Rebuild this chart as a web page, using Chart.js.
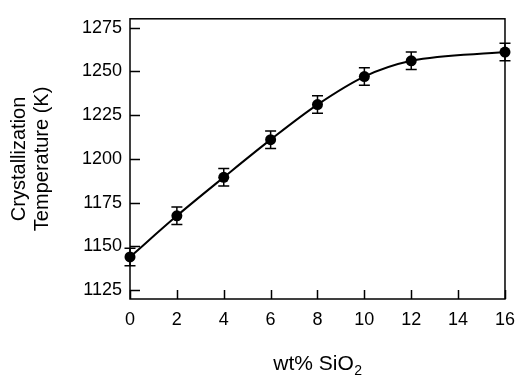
<!DOCTYPE html>
<html>
<head>
<meta charset="utf-8">
<script src="https://cdn.jsdelivr.net/npm/chart.js@4"></script>
<style>
  html,body{margin:0;padding:0;background:#fff;}
  #wrap{width:525px;height:375px;}
</style>
</head>
<body>
<div id="wrap"><canvas id="chart" width="525" height="375"></canvas></div>
<script>
// values
const silica = [0, 2, 4, 6, 8, 10, 12, 16];          // wt% SiO2
const crystTemp = [1144, 1167.5, 1189.5, 1211, 1231, 1247, 1256, 1261]; // K
const tempErr = [5, 5, 5, 5, 5, 5, 5, 5];
const xTicks = [0, 2, 4, 6, 8, 10, 12, 14, 16];
const yTicks = [1125, 1150, 1175, 1200, 1225, 1250, 1275];

const FONT = "'Liberation Sans', Arial, Helvetica, sans-serif";
const INK = "#000";

// error bars, box frame, inward tick marks, axis titles
const decorations = {
  id: "decorations",
  afterDatasetsDraw(chart){
    const ctx = chart.ctx, a = chart.chartArea;
    const xs = chart.scales.x, ys = chart.scales.y;
    ctx.save();
    ctx.strokeStyle = INK;
    ctx.lineWidth = 1.5;
    // error bars
    silica.forEach((x, i) => {
      const px = xs.getPixelForValue(x);
      const top = ys.getPixelForValue(crystTemp[i] + tempErr[i]);
      const bot = ys.getPixelForValue(crystTemp[i] - tempErr[i]);
      ctx.beginPath();
      ctx.moveTo(px, top); ctx.lineTo(px, bot);
      ctx.moveTo(px - 5.5, top); ctx.lineTo(px + 5.5, top);
      ctx.moveTo(px - 5.5, bot); ctx.lineTo(px + 5.5, bot);
      ctx.stroke();
    });
    // frame
    ctx.strokeRect(a.left, a.top, a.right - a.left, a.bottom - a.top);
    // ticks pointing inward
    ctx.beginPath();
    yTicks.forEach(v => {
      const py = Math.round(ys.getPixelForValue(v)) + 0.5;
      ctx.moveTo(a.left, py); ctx.lineTo(a.left + 10, py);
    });
    xTicks.forEach(v => {
      const px = Math.round(xs.getPixelForValue(v)) + 0.5;
      ctx.moveTo(px, a.bottom); ctx.lineTo(px, a.bottom - 9);
    });
    ctx.stroke();

    // y title, two lines rotated
    ctx.fillStyle = INK;
    ctx.font = `20px ${FONT}`;
    ctx.textAlign = "center";
    ctx.textBaseline = "middle";
    ctx.translate(31, (a.top + a.bottom) / 2);
    ctx.rotate(-Math.PI / 2);
    ctx.fillText("Crystallization", 0, -11.5);
    ctx.fillText("Temperature (K)", 0, 11.5);
    ctx.setTransform(1, 0, 0, 1, 0, 0);

    // x title with subscript
    ctx.textBaseline = "alphabetic";
    ctx.textAlign = "left";
    const main = "wt% SiO", sub = "2";
    ctx.font = `21px ${FONT}`;
    const w1 = ctx.measureText(main).width;
    ctx.font = `14px ${FONT}`;
    const w2 = ctx.measureText(sub).width;
    const x0 = (a.left + a.right) / 2 - (w1 + w2) / 2;
    ctx.font = `21px ${FONT}`;
    ctx.fillText(main, x0, 370);
    ctx.font = `14px ${FONT}`;
    ctx.fillText(sub, x0 + w1 + 0.5, 375);
    ctx.restore();
  }
};

new Chart(document.getElementById("chart"), {
  type: "line",
  data: {
    datasets: [{
      data: silica.map((x, i) => ({ x, y: crystTemp[i] })),
      borderColor: INK,
      borderWidth: 2,
      backgroundColor: INK,
      pointBackgroundColor: INK,
      pointBorderColor: INK,
      pointRadius: 5.5,
      pointBorderWidth: 0,
      cubicInterpolationMode: "monotone",
      fill: false,
      clip: false
    }]
  },
  options: {
    responsive: false,
    animation: false,
    events: [],
    layout: { padding: { top: 12, right: 10, left: 0, bottom: 0 } },
    plugins: { legend: { display: false }, tooltip: { enabled: false } },
    scales: {
      x: {
        type: "linear",
        min: 0, max: 16,
        afterBuildTicks: s => { s.ticks = xTicks.map(v => ({ value: v })); },
        afterFit: s => { s.height = 76; },
        grid: { display: false, drawTicks: false },
        border: { display: false },
        ticks: { color: INK, padding: 10, maxRotation: 0, callback: v => String(v), font: { family: FONT, size: 18 } }
      },
      y: {
        min: 1120, max: 1280,
        afterBuildTicks: s => { s.ticks = yTicks.map(v => ({ value: v })); },
        afterFit: s => { s.width = 130; },
        grid: { display: false, drawTicks: false },
        border: { display: false },
        ticks: { color: INK, padding: 8, callback: v => String(v), font: { family: FONT, size: 18 } }
      }
    }
  },
  plugins: [decorations]
});
</script>
</body>
</html>
